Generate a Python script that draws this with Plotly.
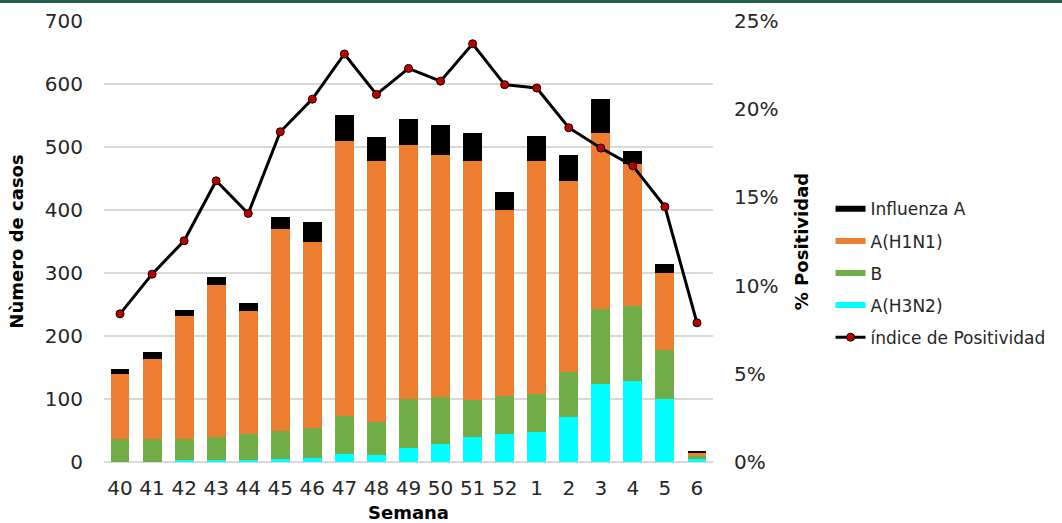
import plotly.graph_objects as go

# Datos
semanas = ["40", "41", "42", "43", "44", "45", "46", "47", "48", "49",
           "50", "51", "52", "1", "2", "3", "4", "5", "6"]
h3n2 = [0, 0, 3, 3, 3, 5, 7, 13, 11, 23, 28, 39, 45, 47, 72, 124, 129, 100, 4]
gripe_b = [36, 37, 33, 36, 42, 45, 47, 60, 53, 77, 75, 60, 60, 61, 71, 119, 118, 78, 6]
h1n1 = [103, 127, 195, 242, 195, 320, 296, 436, 414, 403, 384, 379, 295, 370, 303, 280, 226, 122, 5]
influenza_a = [9, 10, 10, 12, 13, 19, 31, 42, 38, 41, 48, 45, 29, 40, 42, 53, 20, 14, 2]
positividad = [8.4, 10.65, 12.54, 15.94, 14.09, 18.72, 20.57, 23.13, 20.84, 22.31,
               21.59, 23.71, 21.39, 21.2, 18.95, 17.8, 16.79, 14.47, 7.89]

_FONT = "DejaVu Sans"
_TXT = "#262626"
_GRID = "#d9d9d9"

series = [
    ("A(H3N2)", h3n2, "#00FFFF"),
    ("B", gripe_b, "#70AD47"),
    ("A(H1N1)", h1n1, "#ED7D31"),
    ("Influenza A", influenza_a, "#000000"),
]

fig = go.Figure()
for nombre, valores, color in series:
    fig.add_trace(go.Bar(x=semanas, y=valores, name=nombre, marker_color=color,
                         marker_line_width=0, showlegend=False))

# Leyenda con barras finas y anchas (como en Excel): trazas fantasma de línea gruesa
for i, (nombre, _, color) in enumerate(reversed(series)):
    fig.add_trace(go.Scatter(x=[None], y=[None], mode="lines", name=nombre,
                             line=dict(color=color, width=6),
                             legendgroup=f"g{i}", legendrank=i + 1))

fig.add_trace(go.Scatter(
    x=semanas, y=positividad, name="índice de Positividad", yaxis="y2",
    mode="lines+markers", line=dict(color="#000000", width=3),
    marker=dict(color="#C00000", size=8, line=dict(color="#000000", width=1)),
    legendgroup="g9", legendrank=5,
))

fig.update_layout(
    width=1062, height=523,
    paper_bgcolor="white", plot_bgcolor="white",
    barmode="stack", bargap=0.41,
    font=dict(family=_FONT, color=_TXT, size=20),
    margin=dict(l=104, r=347, t=21, b=61),
    legend=dict(x=1.193, xanchor="left", y=0.614, yanchor="top",
                font=dict(size=17, color=_TXT), itemwidth=30, borderwidth=0,
                traceorder="grouped", tracegroupgap=7, bgcolor="rgba(0,0,0,0)"),
    xaxis=dict(range=[-0.5, 18.5], showgrid=False, showline=False, ticks="",
               ticklabelstandoff=12, automargin=False,
               title=dict(text="<b>Semana</b>", font=dict(size=18, color="#000"), standoff=10)),
    yaxis=dict(range=[0, 700], dtick=100, gridcolor=_GRID, gridwidth=1.5,
               zeroline=True, zerolinecolor=_GRID, zerolinewidth=1.5,
               showline=False, ticklabelstandoff=20, automargin=False,
               title=dict(text="<b>Nùmero de casos</b>", font=dict(size=18, color="#000"), standoff=16)),
    yaxis2=dict(range=[0, 25], dtick=5, ticksuffix="%", overlaying="y", side="right",
                showgrid=False, zeroline=False, showline=False, ticklabelstandoff=20,
                automargin=False,
                title=dict(text="<b>% Positividad</b>", font=dict(size=18, color="#000"), standoff=17)),
)

# Franja verde oscura superior
fig.add_shape(type="rect", xref="paper", yref="paper", x0=-0.2, x1=1.6,
              y0=(462 - 3) / 441, y1=1.06, fillcolor="#225C4C", line_width=0, layer="above")

# Sin margen del <body> para que la figura quede en (0, 0)
fig.write_html("out.html", config={"displayModeBar": False},
               post_script="document.body.style.margin='0';")
